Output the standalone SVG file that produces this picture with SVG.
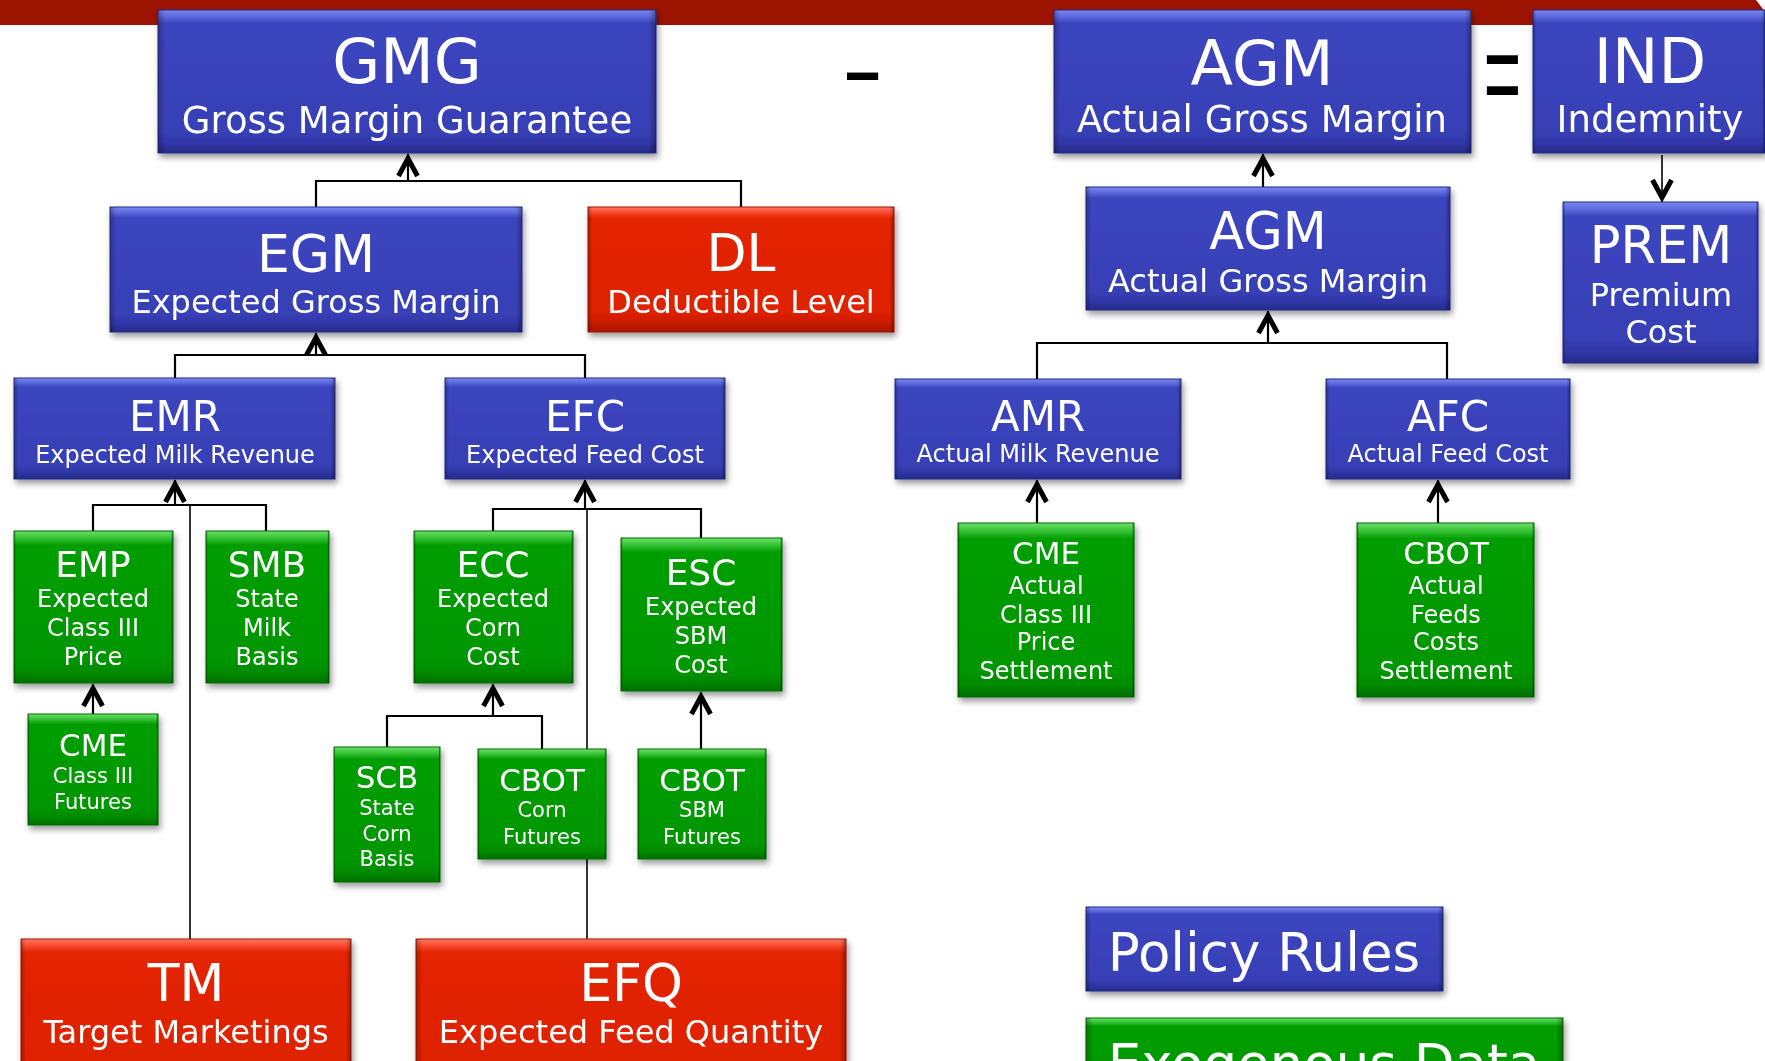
<svg xmlns="http://www.w3.org/2000/svg" width="1765" height="1061" viewBox="0 0 1765 1061">
<style>
.t{font-family:"DejaVu Sans",Verdana,sans-serif;fill:#fff;text-anchor:middle}
.c path{fill:none;stroke:#000;stroke-width:2.2}
.c path.thin{stroke-width:1.6}
.blue .b{fill:url(#gB);stroke:#262c8a;stroke-width:1}
.red .b{fill:url(#gR);stroke:#a01500;stroke-width:1}
.green .b{fill:url(#gG);stroke:#006a00;stroke-width:1}
.s{fill:url(#gS)}
.node{filter:url(#sh)}
.op{fill:#000;text-anchor:middle;font-family:"Liberation Sans",Arial,sans-serif}
</style>
<defs>
<linearGradient id="gB" x1="0" y1="0" x2="0" y2="1">
<stop offset="0" stop-color="#7b88f2"/><stop offset="0.05" stop-color="#5a66da"/><stop offset="0.09" stop-color="#3b45bf"/><stop offset="0.85" stop-color="#3840b6"/><stop offset="0.93" stop-color="#3037a8"/><stop offset="1" stop-color="#252b88"/>
</linearGradient>
<linearGradient id="gR" x1="0" y1="0" x2="0" y2="1">
<stop offset="0" stop-color="#ff7a60"/><stop offset="0.05" stop-color="#f8452a"/><stop offset="0.09" stop-color="#e32502"/><stop offset="0.85" stop-color="#de2000"/><stop offset="0.93" stop-color="#c81c00"/><stop offset="1" stop-color="#a81500"/>
</linearGradient>
<linearGradient id="gG" x1="0" y1="0" x2="0" y2="1">
<stop offset="0" stop-color="#6ee06e"/><stop offset="0.05" stop-color="#30c030"/><stop offset="0.09" stop-color="#059e05"/><stop offset="0.85" stop-color="#009600"/><stop offset="0.93" stop-color="#008a00"/><stop offset="1" stop-color="#007000"/>
</linearGradient>
<linearGradient id="gS" x1="0" y1="0" x2="1" y2="0">
<stop offset="0" stop-color="#000" stop-opacity="0.25"/><stop offset="0.015" stop-color="#000" stop-opacity="0"/><stop offset="0.985" stop-color="#000" stop-opacity="0"/><stop offset="1" stop-color="#000" stop-opacity="0.3"/>
</linearGradient>
<filter id="sh" x="-10%" y="-10%" width="120%" height="130%">
<feDropShadow dx="2" dy="4" stdDeviation="3" flood-color="#000" flood-opacity="0.4"/>
</filter>
<marker id="ah" viewBox="-27 -14 32 28" refX="0" refY="0" markerWidth="32" markerHeight="28" markerUnits="userSpaceOnUse" orient="auto">
<path d="M-22,-9.5 L-4.5,0 L-22,9.5" fill="none" stroke="#000" stroke-width="5" stroke-linejoin="miter" stroke-miterlimit="10"/>
</marker>
</defs>
<rect x="0" y="0" width="1765" height="1061" fill="#fff"/>
<g id="topbar">
<rect x="0" y="0" width="1765" height="25" fill="#9c1300"/>
<path d="M1756,0 Q1760,5 1765,12 L1765,0 Z" fill="#fff"/>
</g>
<g id="connectors" class="c">
<path d="M316,207V181H741V207"/>
<path d="M408,181V154" marker-end="url(#ah)"/>
<path d="M175,378V355H585V378"/>
<path d="M316,355V333" marker-end="url(#ah)"/>
<path d="M93,531V505H266V531"/>
<path d="M175,505V480" marker-end="url(#ah)"/>
<path class="thin" d="M190,505V939"/>
<path d="M493,531V509H701V538"/>
<path d="M585,509V480" marker-end="url(#ah)"/>
<path class="thin" d="M587,509V939"/>
<path d="M93,714V684" marker-end="url(#ah)"/>
<path d="M387,747V716H542V749"/>
<path d="M493,716V684" marker-end="url(#ah)"/>
<path d="M701,749V692" marker-end="url(#ah)"/>
<path d="M1263,187V154" marker-end="url(#ah)"/>
<path d="M1037,379V343H1447V379"/>
<path d="M1268,343V311" marker-end="url(#ah)"/>
<path d="M1037,523V480" marker-end="url(#ah)"/>
<path d="M1438,523V480" marker-end="url(#ah)"/>
<path class="thin" d="M1662,155V202" marker-end="url(#ah)"/>
</g>
<g id="gmg" class="node blue"><rect class="b" x="158" y="10" width="498" height="143"/><rect class="s" x="158" y="10" width="498" height="143"/>
<text class="t" x="407" y="83" font-size="62">GMG</text><text class="t" x="407" y="133" font-size="37">Gross Margin Guarantee</text></g>
<g id="agm-total" class="node blue"><rect class="b" x="1054" y="10" width="417" height="143"/><rect class="s" x="1054" y="10" width="417" height="143"/>
<text class="t" x="1262" y="85" font-size="62">AGM</text><text class="t" x="1262" y="132" font-size="37">Actual Gross Margin</text></g>
<g id="ind" class="node blue"><rect class="b" x="1533" y="10" width="232" height="143"/><rect class="s" x="1533" y="10" width="232" height="143"/>
<text class="t" x="1650" y="83" font-size="62">IND</text><text class="t" x="1650" y="132" font-size="37">Indemnity</text></g>
<g id="egm" class="node blue"><rect class="b" x="110" y="207" width="412" height="125"/><rect class="s" x="110" y="207" width="412" height="125"/>
<text class="t" x="316" y="272" font-size="52">EGM</text><text class="t" x="316" y="313" font-size="32">Expected Gross Margin</text></g>
<g id="dl" class="node red"><rect class="b" x="588" y="207" width="306" height="125"/><rect class="s" x="588" y="207" width="306" height="125"/>
<text class="t" x="741" y="271" font-size="52">DL</text><text class="t" x="741" y="313" font-size="32">Deductible Level</text></g>
<g id="agm" class="node blue"><rect class="b" x="1086" y="187" width="364" height="123"/><rect class="s" x="1086" y="187" width="364" height="123"/>
<text class="t" x="1268" y="249" font-size="51">AGM</text><text class="t" x="1268" y="292" font-size="32">Actual Gross Margin</text></g>
<g id="prem" class="node blue"><rect class="b" x="1563" y="202" width="195" height="161"/><rect class="s" x="1563" y="202" width="195" height="161"/>
<text class="t" x="1661" y="263" font-size="51">PREM</text><text class="t" x="1661" y="306" font-size="32">Premium</text><text class="t" x="1661" y="343" font-size="32">Cost</text></g>
<g id="emr" class="node blue"><rect class="b" x="14" y="378" width="321" height="101"/><rect class="s" x="14" y="378" width="321" height="101"/>
<text class="t" x="175" y="431" font-size="42">EMR</text><text class="t" x="175" y="463" font-size="24">Expected Milk Revenue</text></g>
<g id="efc" class="node blue"><rect class="b" x="445" y="378" width="280" height="101"/><rect class="s" x="445" y="378" width="280" height="101"/>
<text class="t" x="585" y="431" font-size="42">EFC</text><text class="t" x="585" y="463" font-size="24">Expected Feed Cost</text></g>
<g id="amr" class="node blue"><rect class="b" x="895" y="379" width="286" height="100"/><rect class="s" x="895" y="379" width="286" height="100"/>
<text class="t" x="1038" y="431" font-size="42">AMR</text><text class="t" x="1038" y="462" font-size="24">Actual Milk Revenue</text></g>
<g id="afc" class="node blue"><rect class="b" x="1326" y="379" width="244" height="100"/><rect class="s" x="1326" y="379" width="244" height="100"/>
<text class="t" x="1448" y="431" font-size="42">AFC</text><text class="t" x="1448" y="462" font-size="24">Actual Feed Cost</text></g>
<g id="emp" class="node green"><rect class="b" x="14" y="531" width="159" height="152"/><rect class="s" x="14" y="531" width="159" height="152"/>
<text class="t" x="93" y="577" font-size="36">EMP</text><text class="t" x="93" y="607" font-size="24">Expected</text><text class="t" x="93" y="636" font-size="24">Class III</text><text class="t" x="93" y="665" font-size="24">Price</text></g>
<g id="smb" class="node green"><rect class="b" x="206" y="531" width="123" height="152"/><rect class="s" x="206" y="531" width="123" height="152"/>
<text class="t" x="267" y="577" font-size="36">SMB</text><text class="t" x="267" y="607" font-size="24">State</text><text class="t" x="267" y="636" font-size="24">Milk</text><text class="t" x="267" y="665" font-size="24">Basis</text></g>
<g id="ecc" class="node green"><rect class="b" x="414" y="531" width="159" height="152"/><rect class="s" x="414" y="531" width="159" height="152"/>
<text class="t" x="493" y="577" font-size="36">ECC</text><text class="t" x="493" y="607" font-size="24">Expected</text><text class="t" x="493" y="636" font-size="24">Corn</text><text class="t" x="493" y="665" font-size="24">Cost</text></g>
<g id="esc" class="node green"><rect class="b" x="621" y="538" width="161" height="153"/><rect class="s" x="621" y="538" width="161" height="153"/>
<text class="t" x="701" y="585" font-size="36">ESC</text><text class="t" x="701" y="615" font-size="24">Expected</text><text class="t" x="701" y="644" font-size="24">SBM</text><text class="t" x="701" y="673" font-size="24">Cost</text></g>
<g id="cme-futures" class="node green"><rect class="b" x="28" y="714" width="130" height="111"/><rect class="s" x="28" y="714" width="130" height="111"/>
<text class="t" x="93" y="756" font-size="31">CME</text><text class="t" x="93" y="783" font-size="21">Class III</text><text class="t" x="93" y="809" font-size="21">Futures</text></g>
<g id="scb" class="node green"><rect class="b" x="334" y="747" width="106" height="135"/><rect class="s" x="334" y="747" width="106" height="135"/>
<text class="t" x="387" y="788" font-size="31">SCB</text><text class="t" x="387" y="815" font-size="21">State</text><text class="t" x="387" y="841" font-size="21">Corn</text><text class="t" x="387" y="866" font-size="21">Basis</text></g>
<g id="cbot-corn" class="node green"><rect class="b" x="478" y="749" width="128" height="110"/><rect class="s" x="478" y="749" width="128" height="110"/>
<text class="t" x="542" y="791" font-size="31">CBOT</text><text class="t" x="542" y="817" font-size="21">Corn</text><text class="t" x="542" y="844" font-size="21">Futures</text></g>
<g id="cbot-sbm" class="node green"><rect class="b" x="638" y="749" width="128" height="110"/><rect class="s" x="638" y="749" width="128" height="110"/>
<text class="t" x="702" y="791" font-size="31">CBOT</text><text class="t" x="702" y="817" font-size="21">SBM</text><text class="t" x="702" y="844" font-size="21">Futures</text></g>
<g id="cme-actual" class="node green"><rect class="b" x="958" y="523" width="176" height="174"/><rect class="s" x="958" y="523" width="176" height="174"/>
<text class="t" x="1046" y="564" font-size="31">CME</text><text class="t" x="1046" y="594" font-size="24">Actual</text><text class="t" x="1046" y="623" font-size="24">Class III</text><text class="t" x="1046" y="650" font-size="24">Price</text><text class="t" x="1046" y="679" font-size="24">Settlement</text></g>
<g id="cbot-actual" class="node green"><rect class="b" x="1357" y="523" width="177" height="174"/><rect class="s" x="1357" y="523" width="177" height="174"/>
<text class="t" x="1446" y="564" font-size="31">CBOT</text><text class="t" x="1446" y="594" font-size="24">Actual</text><text class="t" x="1446" y="623" font-size="24">Feeds</text><text class="t" x="1446" y="650" font-size="24">Costs</text><text class="t" x="1446" y="679" font-size="24">Settlement</text></g>
<g id="tm" class="node red"><rect class="b" x="21" y="939" width="330" height="150"/><rect class="s" x="21" y="939" width="330" height="150"/>
<text class="t" x="186" y="1001" font-size="52">TM</text><text class="t" x="186" y="1043" font-size="32">Target Marketings</text></g>
<g id="efq" class="node red"><rect class="b" x="416" y="939" width="430" height="150"/><rect class="s" x="416" y="939" width="430" height="150"/>
<text class="t" x="631" y="1001" font-size="52">EFQ</text><text class="t" x="631" y="1043" font-size="32">Expected Feed Quantity</text></g>
<g id="legend-policy" class="node blue"><rect class="b" x="1086" y="907" width="357" height="84"/><rect class="s" x="1086" y="907" width="357" height="84"/>
<text class="t" x="1264" y="971" font-size="53">Policy Rules</text></g>
<g id="legend-exogenous" class="node green"><rect class="b" x="1086" y="1018" width="477" height="90"/><rect class="s" x="1086" y="1018" width="477" height="90"/>
<text class="t" x="1324" y="1082" font-size="53">Exogenous Data</text></g>
<g id="operators">
<text class="op" transform="translate(862.5,105) scale(1,2)" x="0" y="0" font-size="56">–</text>
<text class="op" transform="translate(1502.5,116) scale(1,1.9)" x="0" y="0" font-size="64">=</text>
</g>
</svg>
